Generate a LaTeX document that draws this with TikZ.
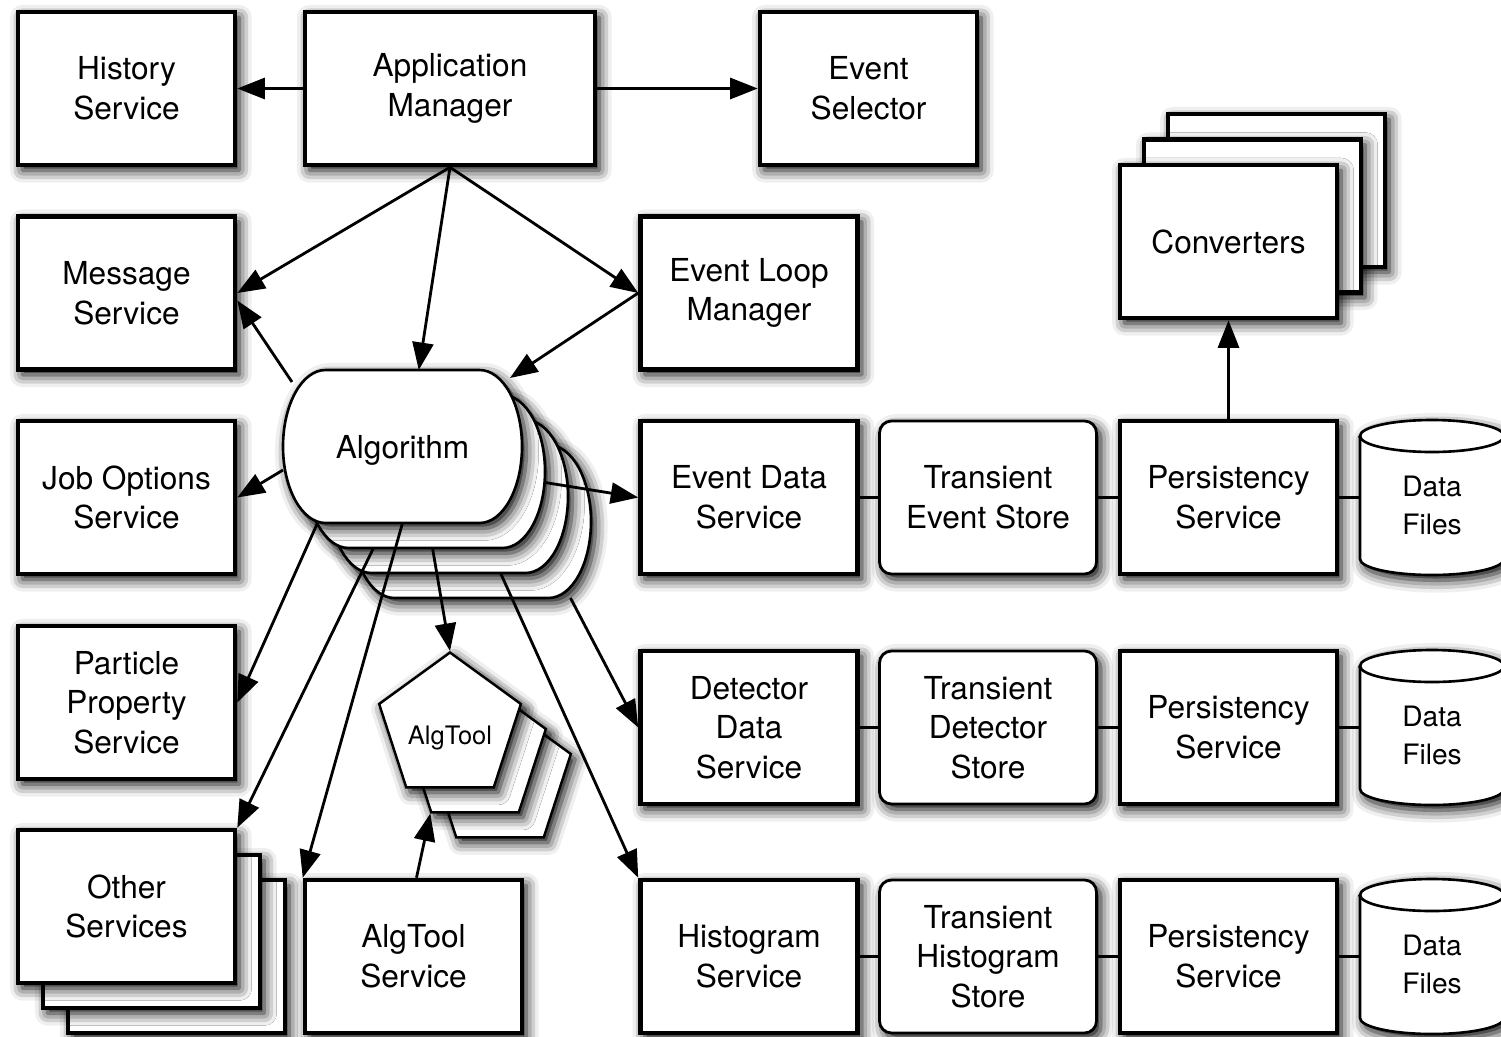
\documentclass[tikz,border=0pt]{standalone}
\usepackage{fontspec}
\setmainfont{TeX Gyre Heros}
\usetikzlibrary{arrows.meta,shapes.geometric,shadows.blur}

\tikzset{
  dropshade/.style={blur shadow={shadow xshift=2.5pt,shadow yshift=-3pt,shadow blur radius=7pt,shadow opacity=100}},
  svc/.style={draw,line width=2.6pt,fill=white,dropshade,minimum width=4.34cm,minimum height=3.06cm,
    inner sep=2pt,align=center,font=\fontsize{18}{22.5}\selectfont},
  store/.style={svc,rounded corners=0.24cm,line width=1.6pt},
  tool/.style={regular polygon,regular polygon sides=5,draw,line width=1.4pt,fill=white,dropshade,
    minimum size=2.98cm,inner sep=0pt,text height=23pt,text depth=3pt,font=\fontsize{14.5}{16}\selectfont},
  blobarea/.style={inner sep=0pt,outer sep=0pt,minimum width=4.78cm,minimum height=3.06cm,
    text height=18pt,text depth=4pt,font=\fontsize{18}{22.5}\selectfont},
  blobline/.style={line width=1.5pt,fill=white,dropshade},
  filearea/.style={inner sep=0pt,outer sep=0pt,minimum width=2.88cm,minimum height=3.1cm,
    align=center,font=\fontsize{16}{21.5}\selectfont},
  uses/.style={line width=1.6pt,-{Triangle[length=0.55cm,width=0.42cm,fill=black]}},
  link/.style={line width=1.8pt}
}

% rounded algorithm outline, centred at #1
\newcommand\blob[1]{%
  \draw[blobline,shift={(#1)}] (-1.54,1.53) -- (1.54,1.53)
    arc[start angle=90,end angle=-90,x radius=0.85cm,y radius=1.53cm]
    -- (-1.54,-1.53)
    arc[start angle=270,end angle=90,x radius=0.85cm,y radius=1.53cm] -- cycle;}

% data file drum, centred at #1
\newcommand\drum[1]{%
  \draw[blobline,shift={(#1)}] (-1.44,1.23) -- (-1.44,-1.23)
    arc[start angle=180,end angle=360,x radius=1.44cm,y radius=0.32cm]
    -- (1.44,1.23)
    arc[start angle=0,end angle=180,x radius=1.44cm,y radius=0.32cm] -- cycle;
  \draw[line width=1.5pt,shift={(#1)}] (-1.44,1.23)
    arc[start angle=180,end angle=360,x radius=1.44cm,y radius=0.32cm];}

\begin{document}
\begin{tikzpicture}
\useasboundingbox (0,0) rectangle (30.02,-20.72);

% top row
\node[svc] (hist) at (2.53,-1.77) {History\\Service};
\node[svc,minimum width=5.8cm] (appmgr) at (9.0,-1.77) {Application\\Manager\vphantom{y}};
\node[svc] (evsel) at (17.37,-1.77) {Event\\Selector};

% converters stack
\node[svc] (conv3) at (25.53,-3.81) {};
\node[svc] (conv2) at (25.05,-4.32) {};
\node[svc] (conv) at (24.57,-4.83) {Converters};

% left column
\node[svc] (msg) at (2.53,-5.86) {Message\\Service};
\node[svc] (jobopt) at (2.53,-9.95) {Job Options\\Service};
\node[svc] (ppsvc) at (2.53,-14.05) {Particle\\Property\\Service};
\node[svc] (other3) at (3.53,-19.13) {};
\node[svc] (other2) at (3.03,-18.63) {};
\node[svc] (other) at (2.53,-18.13) {Other\\Services};

\node[svc] (elm) at (14.98,-5.86) {Event Loop\\Manager};

% algorithm stack
\blob{9.43,-10.43}
\blob{8.97,-9.93}
\blob{8.51,-9.43}
\blob{8.05,-8.93}
\node[blobarea] (alg4) at (9.43,-10.43) {};
\node[blobarea] (alg3) at (8.97,-9.93) {};
\node[blobarea] (alg2) at (8.51,-9.43) {};
\node[blobarea] (alg) at (8.05,-8.93) {Algorithm};

% tools
\node[tool] (at3) at (10.0,-15.54) {};
\node[tool] (at2) at (9.5,-15.04) {};
\node[tool] (at) at (9.0,-14.54) {AlgTool};
\node[svc] (atsvc) at (8.27,-19.13) {AlgTool\\Service};

% event row
\node[svc] (evdata) at (14.98,-9.95) {Event Data\\Service};
\node[store] (tes) at (19.76,-9.95) {Transient\\Event Store};
\node[svc] (pers1) at (24.57,-9.95) {Persistency\\Service};
\drum{28.64,-9.95}
\node[filearea] (data1) at (28.64,-10.11) {Data\\Files};

% detector row
\node[svc] (detdata) at (14.98,-14.55) {Detector\\Data\\Service};
\node[store] (tds) at (19.76,-14.55) {Transient\\Detector\\Store};
\node[svc] (pers2) at (24.57,-14.55) {Persistency\\Service};
\drum{28.64,-14.55}
\node[filearea] (data2) at (28.64,-14.71) {Data\\Files};

% histogram row
\node[svc] (histsvc) at (14.98,-19.13) {Histogram\\Service};
\node[store] (ths) at (19.76,-19.13) {Transient\\Histogram\\Store};
\node[svc] (pers3) at (24.57,-19.13) {Persistency\\Service};
\drum{28.64,-19.13}
\node[filearea] (data3) at (28.64,-19.29) {Data\\Files};

% links
\draw[link] (evdata) -- (tes) -- (pers1) -- (pers1 -| data1.west);
\draw[link] (detdata) -- (tds) -- (pers2) -- (pers2 -| data2.west);
\draw[link] (histsvc) -- (ths) -- (pers3) -- (pers3 -| data3.west);

% arrows
\draw[uses] (appmgr.west) -- (hist.east);
\draw[uses] (appmgr.east) -- (evsel.west);
\draw[uses] (appmgr.south) -- (msg.east);
\draw[uses] (appmgr.south) -- (alg.78);
\draw[uses] (appmgr.south) -- (elm.west);
\draw[uses] (elm.west) -- ([xshift=-0.24cm,yshift=-0.16cm]alg.north east);
\draw[uses] ([xshift=0.18cm,yshift=-0.24cm]alg.north west) -- ([yshift=-0.15cm]msg.east);
\draw[uses] ([yshift=-0.47cm]alg.west) -- (jobopt.east);
\draw[uses] ([yshift=-0.22cm]alg2.east) -- (evdata.west);
\draw[uses] ([xshift=-1.7cm]alg.south) -- (ppsvc.east);
\draw[uses] ([xshift=-1.04cm]alg2.south) -- (other.north east);
\draw[uses] (alg.south) -- (atsvc.north west);
\draw[uses] ([xshift=0.14cm]alg2.south) -- (at.north);
\draw[uses] ([xshift=1.04cm]alg3.south) -- (histsvc.north west);
\draw[uses] ([xshift=1.98cm]alg4.south) -- (detdata.west);
\draw[uses] ([xshift=0.06cm]atsvc.north) -- (at2.corner 3);
\draw[uses] (pers1.north) -- (conv.south);
\end{tikzpicture}
\end{document}
